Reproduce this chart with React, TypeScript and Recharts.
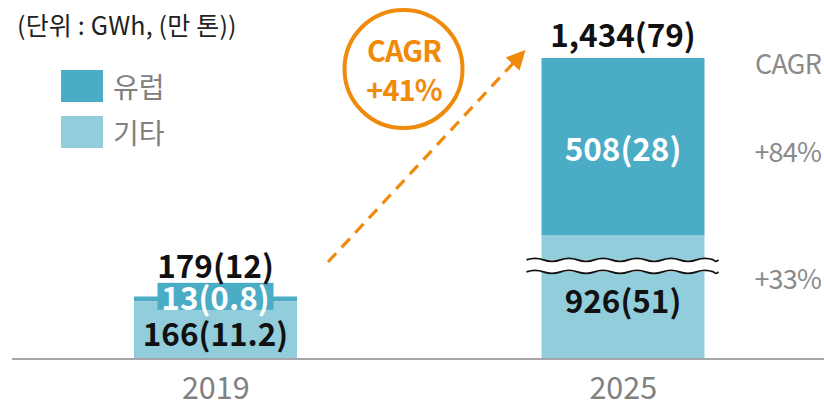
import React from 'react';
import { BarChart, Bar, XAxis, YAxis, LabelList, Legend } from 'recharts';

const years = ['2019', '2025'];
const otherGWh = [166, 926];
const otherTon = [11.2, 51];
const europeGWh = [13, 508];
const europeTon = [0.8, 28];
const totalGWh = [179, 1434];
const totalTon = [12, 79];
const cagrTotal = '+41%';
const cagrEurope = '+84%';
const cagrOther = '+33%';

// the 2025 기타 bar is drawn with a cut: values between these two are skipped
const axisBreak = { from: 267, to: 838 };
const cut = axisBreak.to - axisBreak.from;

const europeColor = '#4bacc6';
const otherColor = '#92cddc';
const orange = '#f08a0a';
const font = '"Noto Sans CJK KR", "Noto Sans", sans-serif';

const data = years.map((year, i) => ({
  year,
  other: otherGWh[i] > axisBreak.to ? otherGWh[i] - cut : otherGWh[i],
  europe: europeGWh[i],
  broken: otherGWh[i] > axisBreak.to,
  otherLabel: `${otherGWh[i]}(${otherTon[i]})`,
  europeLabel: `${europeGWh[i]}(${europeTon[i]})`,
  totalLabel: `${totalGWh[i].toLocaleString('en-US')}(${totalTon[i]})`,
}));

const wave = (x0: number, x1: number, yc: number, amp: number, period: number) => {
  const pts: string[] = [];
  const half = period / 2;
  let x = x0;
  let k = 0;
  pts.push(`M${x0},${yc}`);
  while (x < x1) {
    const nx = Math.min(x + half, x1);
    const cy = yc + (k % 2 === 0 ? -amp * 2 : amp * 2);
    pts.push(`Q${(x + nx) / 2},${cy} ${nx},${yc}`);
    x = nx;
    k++;
  }
  return pts.join(' ');
};

const OtherShape = (props: any) => {
  const { x, y, width, height, fill, payload } = props;
  const rect = <rect x={x} y={y} width={width} height={height} fill={fill} />;
  if (!payload || !payload.broken) return rect;
  const breakY = y + height - height * (axisBreak.from / payload.other);
  const x0 = x - 15;
  const x1 = x + width + 14;
  const up = wave(x0, x1, breakY - 6, 1.5, 34);
  const low = wave(x0, x1, breakY + 6, 1.5, 34);
  return (
    <g>
      {rect}
      <rect x={x0} y={breakY - 6} width={x1 - x0} height={12} fill="#fff" />
      <path d={`${up} L${x1},${breakY} L${x0},${breakY} Z`} fill="#fff" stroke="none" />
      <path d={`${low} L${x1},${breakY} L${x0},${breakY} Z`} fill="#fff" stroke="none" />
      <path d={up} fill="none" stroke="#111" strokeWidth={1.6} />
      <path d={low} fill="none" stroke="#111" strokeWidth={1.6} />
    </g>
  );
};

const labelText = {
  fontFamily: font,
  fontWeight: 700,
  fontSize: 31.5,
  textAnchor: 'middle' as const,
  dominantBaseline: 'central' as const,
};

const OtherLabel = (props: any) => {
  const { x, y, width, height, index } = props;
  return (
    <text x={x + width / 2} y={y + height / 2 + 2} fill="#111" {...labelText}>
      {data[index].otherLabel}
    </text>
  );
};

const EuropeLabel = (props: any) => {
  const { x, y, width, height, index } = props;
  const cx = x + width / 2;
  const cy = y + height / 2;
  const small = height < 20;
  return (
    <g>
      {small && <rect x={cx - 58} y={cy - 16} width={116} height={27} fill={europeColor} />}
      <text x={cx} y={small ? cy - 3 : cy} fill="#fff" {...labelText}>
        {data[index].europeLabel}
      </text>
    </g>
  );
};

const TotalLabel = (props: any) => {
  const { x, y, width, height, index } = props;
  const small = height < 20;
  return (
    <text x={x + width / 2} y={y - (small ? 33 : 25)} fill="#111" {...labelText}>
      {data[index].totalLabel}
    </text>
  );
};

const YearTick = (props: any) => {
  const { x, y, payload } = props;
  return (
    <text x={x} y={y + 27} textAnchor="middle" dominantBaseline="central" fill="#808080"
      fontFamily={font} fontSize={30.5}>
      {payload.value}
    </text>
  );
};

const legendItems = [
  { name: '유럽', color: europeColor },
  { name: '기타', color: otherColor },
];

const LegendBox = () => (
  <div style={{ fontFamily: font }}>
    {legendItems.map((it) => (
      <div key={it.name} style={{ display: 'flex', alignItems: 'center', height: 46 }}>
        <div style={{ width: 42, height: 32, background: it.color, marginRight: 10 }} />
        <span style={{ fontSize: 28, color: '#808080', lineHeight: '32px' }}>{it.name}</span>
      </div>
    ))}
  </div>
);

export default function App() {
  return (
    <div style={{ position: 'absolute', left: 0, top: 0, width: 824, height: 406, overflow: 'hidden', background: '#fff' }}>
      <BarChart width={827} height={406} data={data} margin={{ top: 58, right: 0, bottom: 0, left: 12 }}>
        <XAxis dataKey="year" height={47} tickLine={false} tickSize={0} tickMargin={0}
          axisLine={{ stroke: '#a6a6a6', strokeWidth: 2 }} tick={<YearTick />} />
        <YAxis hide domain={[0, 'dataMax']} />
        <Legend layout="vertical" align="center" verticalAlign="middle" content={<LegendBox />}
          wrapperStyle={{ position: 'absolute', top: 63, left: 61, width: 'auto' }} />
        <Bar dataKey="other" stackId="a" fill={otherColor} barSize={163} shape={<OtherShape />} isAnimationActive={false}>
          <LabelList dataKey="otherLabel" content={<OtherLabel />} />
        </Bar>
        <Bar dataKey="europe" stackId="a" fill={europeColor} barSize={163} isAnimationActive={false}>
          <LabelList dataKey="europeLabel" content={<EuropeLabel />} />
          <LabelList dataKey="totalLabel" content={<TotalLabel />} />
        </Bar>
      </BarChart>

      <div style={{ position: 'absolute', left: 17, top: 6, fontFamily: font, fontSize: 25, color: '#222', whiteSpace: 'nowrap', letterSpacing: 0.2 }}>
        (단위 : GWh, (만 톤))
      </div>

      <svg width={824} height={406} style={{ position: 'absolute', left: 0, top: 0, pointerEvents: 'none' }}>
        <defs>
          <marker id="arrowHead" markerWidth="6" markerHeight="6" refX="3" refY="3" orient="auto" markerUnits="strokeWidth">
            <path d="M0,0 L6,3 L0,6 Z" fill={orange} />
          </marker>
        </defs>
        <line x1={328} y1={262} x2={519} y2={57} stroke={orange} strokeWidth={3.2} strokeDasharray="12 8" markerEnd="url(#arrowHead)" />
        <circle cx={403.5} cy={69} r={59} fill="#fff" stroke={orange} strokeWidth={4} />
        <text x={404} y={49} textAnchor="middle" dominantBaseline="central" fill={orange}
          fontFamily={font} fontWeight={700} fontSize={29} letterSpacing={-1}>CAGR</text>
        <text x={404} y={88} textAnchor="middle" dominantBaseline="central" fill={orange}
          fontFamily={font} fontWeight={700} fontSize={29} letterSpacing={-1}>{cagrTotal}</text>

        <g fontFamily={font} fontSize={27} fill="#8a8a8a" textAnchor="end" dominantBaseline="central" letterSpacing={-0.8}>
          <text x={821} y={62}>CAGR</text>
          <text x={821} y={150}>{cagrEurope}</text>
          <text x={821} y={277}>{cagrOther}</text>
        </g>
      </svg>
    </div>
  );
}
